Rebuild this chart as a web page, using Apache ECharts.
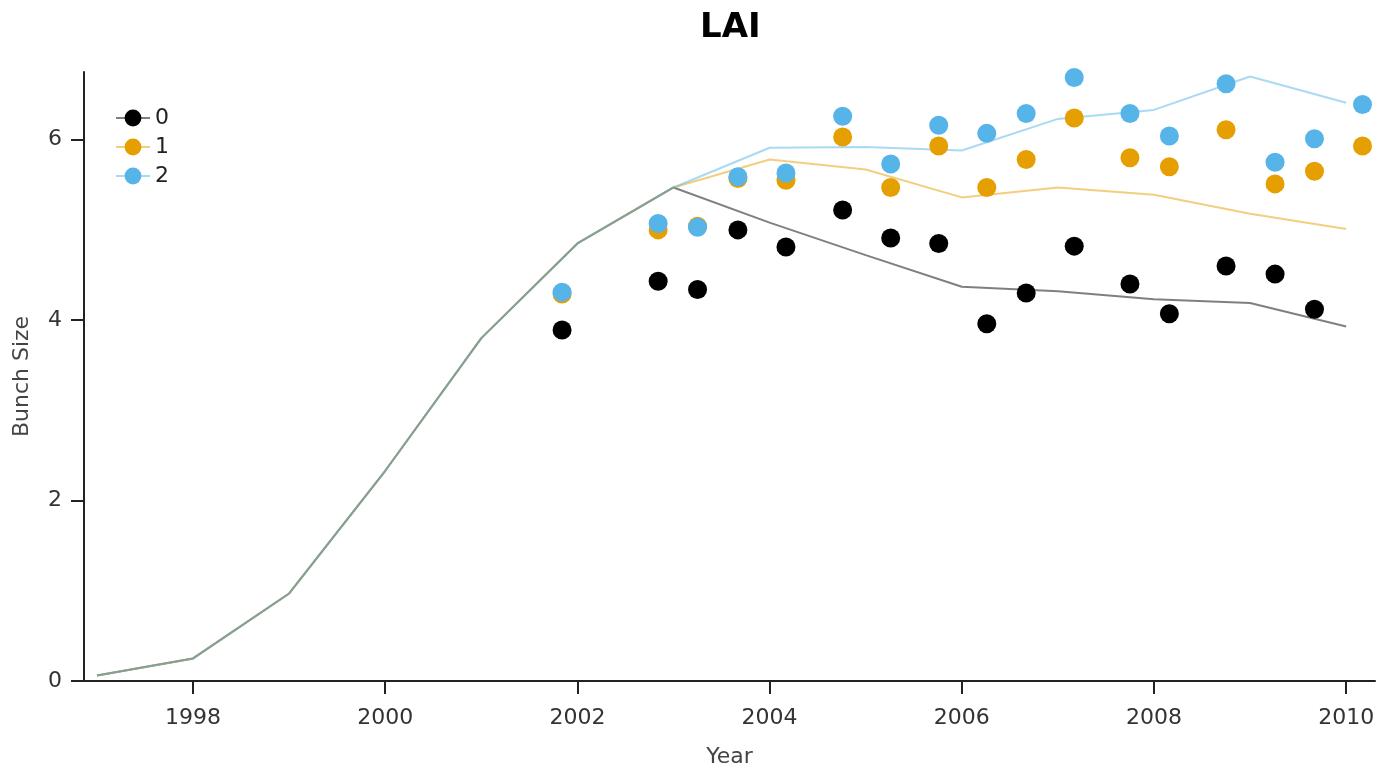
<!DOCTYPE html>
<html>
<head>
<meta charset="utf-8">
<title>LAI</title>
<script src="https://cdn.jsdelivr.net/npm/echarts@6/dist/echarts.min.js"></script>
<style>
  html, body { margin: 0; padding: 0; background: #ffffff; }
  #chart { width: 1395px; height: 771px; }
</style>
</head>
<body>
<div id="chart"></div>
<script>
// Simulated LAI, one value per year (start of year)
const simYears = [1997, 1998, 1999, 2000, 2001, 2002, 2003, 2004, 2005, 2006, 2007, 2008, 2009, 2010];
const sim0 = [0.06, 0.25, 0.97, 2.33, 3.80, 4.85, 5.47, 5.08, 4.72, 4.37, 4.32, 4.23, 4.19, 3.93];
const sim1 = [0.06, 0.25, 0.97, 2.33, 3.80, 4.85, 5.47, 5.78, 5.67, 5.36, 5.47, 5.39, 5.18, 5.01];
const sim2 = [0.06, 0.25, 0.97, 2.33, 3.80, 4.85, 5.47, 5.91, 5.92, 5.88, 6.23, 6.33, 6.70, 6.41];

// Observed values (decimal year of sampling)
const obsYears = [2001.84, 2002.84, 2003.25, 2003.67, 2004.17, 2004.76, 2005.26, 2005.76, 2006.26,
                  2006.67, 2007.17, 2007.75, 2008.16, 2008.75, 2009.26, 2009.67, 2010.17];
const obs0 = [3.89, 4.43, 4.34, 5.00, 4.81, 5.22, 4.91, 4.85, 3.96, 4.30, 4.82, 4.40, 4.07, 4.60, 4.51, 4.12, null];
const obs1 = [4.29, 5.00, 5.04, 5.57, 5.55, 6.03, 5.47, 5.93, 5.47, 5.78, 6.24, 5.80, 5.70, 6.11, 5.51, 5.65, 5.93];
const obs2 = [4.31, 5.07, 5.03, 5.59, 5.63, 6.26, 5.73, 6.16, 6.07, 6.29, 6.69, 6.29, 6.04, 6.62, 5.75, 6.01, 6.39];

const seriesNames = ['0', '1', '2'];
const xTicks = [1998, 2000, 2002, 2004, 2006, 2008, 2010];
const yTicks = [0, 2, 4, 6];

const markColors = ['#000000', '#E69F00', '#56B4E9'];
const FONT = 'DejaVu Sans';

const pairs = (xs, ys) => xs.map((x, i) => [x, ys[i]]).filter(p => p[1] !== null);

const sims = [sim0, sim1, sim2];
const obss = [obs0, obs1, obs2];

const lineSeries = seriesNames.map((name, i) => ({
  name: name,
  type: 'line',
  data: pairs(simYears, sims[i]),
  showSymbol: false,
  symbol: 'circle',
  silent: true,
  itemStyle: { color: markColors[i] },
  lineStyle: { color: markColors[i], width: 2, opacity: 0.5 },
  z: 2
}));

const scatterSeries = seriesNames.map((name, i) => ({
  name: name,
  type: 'scatter',
  data: pairs(obsYears, obss[i]),
  symbol: 'circle',
  symbolSize: 19,
  itemStyle: { color: markColors[i], opacity: 1 },
  z: 3
}));

const chart = echarts.init(document.getElementById('chart'), null, { renderer: 'canvas' });

chart.setOption({
  animation: false,
  backgroundColor: '#ffffff',
  title: {
    text: 'LAI',
    left: 695,
    top: 6,
    textStyle: { fontFamily: FONT, fontWeight: 'bold', fontSize: 34, color: '#000000' }
  },
  legend: {
    data: seriesNames,
    orient: 'vertical',
    left: 110,
    top: 102,
    itemWidth: 34,
    itemHeight: 21,
    itemGap: 7,
    textStyle: { fontFamily: FONT, fontSize: 22, color: '#222222' },
    selectedMode: false
  },
  grid: {
    left: 84,
    right: 20,
    top: 72,
    bottom: 90,
    containLabel: false,
    outerBoundsMode: 'none'
  },
  xAxis: {
    type: 'value',
    min: 1996.865,
    max: 2010.3,
    name: 'Year',
    nameLocation: 'middle',
    nameGap: 65,
    nameMoveOverlap: false,
    nameTextStyle: { fontFamily: FONT, fontSize: 22, color: '#444444' },
    axisLine: { show: true, onZero: false, lineStyle: { color: '#222222', width: 2 } },
    axisTick: { show: true, length: 13, customValues: xTicks, lineStyle: { color: '#222222', width: 2 } },
    axisLabel: {
      customValues: xTicks,
      margin: 26,
      fontFamily: FONT,
      fontSize: 22,
      color: '#333333',
      formatter: v => String(Math.round(v))
    },
    splitLine: { show: false }
  },
  yAxis: {
    type: 'value',
    min: 0,
    max: 6.75,
    name: 'Bunch Size',
    nameLocation: 'middle',
    nameGap: 51,
    nameMoveOverlap: false,
    nameTextStyle: { fontFamily: FONT, fontSize: 22, color: '#444444' },
    axisLine: { show: true, onZero: false, lineStyle: { color: '#222222', width: 2 } },
    axisTick: { show: true, length: 13, customValues: yTicks, lineStyle: { color: '#222222', width: 2 } },
    axisLabel: {
      customValues: yTicks,
      margin: 22,
      fontFamily: FONT,
      fontSize: 22,
      color: '#333333'
    },
    splitLine: { show: false }
  },
  series: lineSeries.concat(scatterSeries)
});
</script>
</body>
</html>
